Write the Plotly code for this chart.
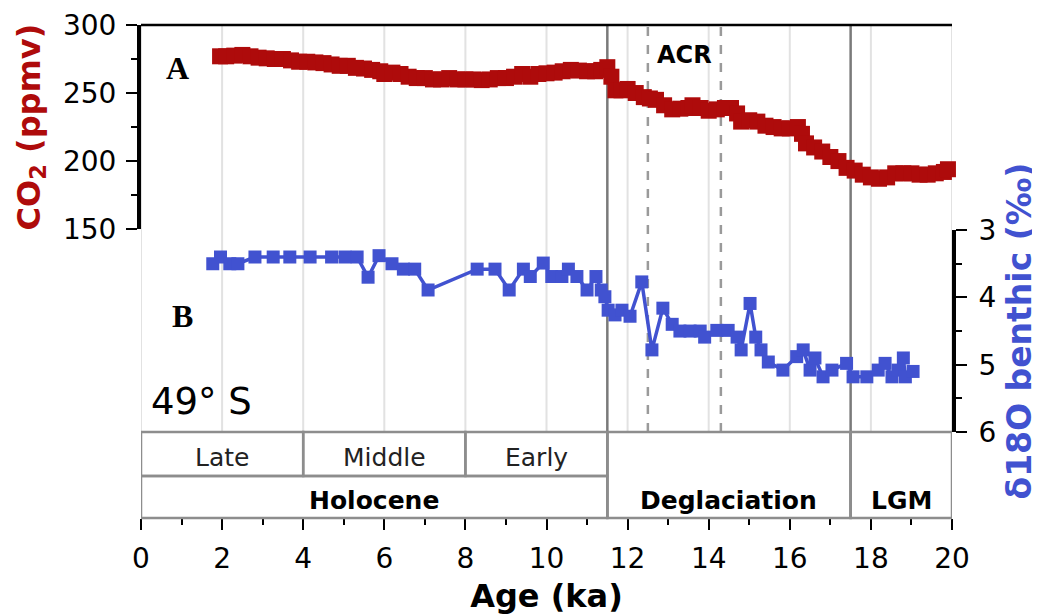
import plotly.graph_objects as go

# ---------------- data ----------------
co2_age = [1.95, 2.1, 2.3, 2.5, 2.7, 2.9, 3.1, 3.3, 3.5, 3.7, 3.9, 4.1, 4.3, 4.5, 4.7, 4.9,
           5.1, 5.3, 5.5, 5.7, 5.9, 6.0, 6.2, 6.4, 6.6, 6.8, 7.0, 7.2, 7.4, 7.6, 7.8, 8.0,
           8.2, 8.4, 8.6, 8.8, 9.0, 9.2, 9.4, 9.6, 9.8, 10.0, 10.2, 10.4, 10.6, 10.8, 11.0,
           11.2, 11.35, 11.5, 11.6, 11.7, 11.85, 12.0, 12.2, 12.4, 12.55, 12.7, 12.9, 13.1,
           13.3, 13.5, 13.6, 13.8, 14.0, 14.2, 14.4, 14.55, 14.7, 14.8, 15.0, 15.2, 15.4,
           15.6, 15.8, 16.0, 16.2, 16.3, 16.4, 16.6, 16.8, 17.0, 17.2, 17.4, 17.6, 17.8,
           18.0, 18.2, 18.4, 18.6, 18.8, 19.0, 19.2, 19.4, 19.6, 19.8, 19.9]
co2_ppmv = [277, 277, 277.5, 278, 277, 276, 275.5, 275, 275, 274, 273, 273, 272.5, 272, 271, 270,
            270, 268.5, 268, 267, 266, 264, 265, 264, 262, 261, 261, 260, 260, 261, 260, 260,
            260, 259.5, 260, 261, 261, 262, 264, 262, 264, 264.5, 265, 266, 267, 266.5, 266,
            266, 267, 269, 262, 252, 252, 253, 250, 247, 246, 245, 241, 238,
            238.5, 239, 241, 239, 237, 238, 239, 239, 235, 229, 230, 229, 226,
            225, 224, 224, 225, 220, 213, 210, 207, 203, 200, 195, 193, 190,
            188, 187, 188, 191, 191, 191, 190, 190, 191, 192, 194]

d18o_age = [1.77, 1.96, 2.19, 2.39, 2.81, 3.26, 3.67, 4.17, 4.7, 5.03, 5.33, 5.6, 5.87, 6.19,
            6.47, 6.75, 7.08, 8.29, 8.73, 9.08, 9.43, 9.6, 9.92, 10.13, 10.38, 10.54, 10.75,
            11.0, 11.22, 11.35, 11.44, 11.52, 11.69, 11.86, 12.06, 12.35, 12.6, 12.87, 13.1,
            13.29, 13.54, 13.79, 13.9, 14.2, 14.48, 14.7, 14.8, 15.02, 15.16, 15.29, 15.47,
            15.83, 16.17, 16.33, 16.5, 16.62, 16.82, 17.04, 17.4, 17.56, 17.9, 18.18, 18.35,
            18.52, 18.67, 18.8, 18.85, 19.04]
d18o_val = [3.5, 3.4, 3.5, 3.5, 3.4, 3.4, 3.4, 3.4, 3.4, 3.4, 3.4, 3.7, 3.38, 3.5,
            3.58, 3.58, 3.89, 3.58, 3.58, 3.89, 3.58, 3.69, 3.49, 3.69, 3.69, 3.58, 3.69,
            3.89, 3.69, 3.89, 3.99, 4.19, 4.26, 4.19, 4.28, 3.77, 4.78, 4.16, 4.4,
            4.5, 4.5, 4.5, 4.59, 4.49, 4.49, 4.59, 4.78, 4.09, 4.59, 4.78, 4.96,
            5.08, 4.88, 4.78, 5.08, 4.9, 5.18, 5.08, 4.98, 5.18, 5.18, 5.08, 4.98,
            5.18, 5.08, 4.9, 5.18, 5.1]

x_ticks = list(range(0, 21, 2))
co2_ticks = [150, 200, 250, 300]
d18o_ticks = [3, 4, 5, 6]
grid_x = list(range(0, 21, 2))
period_bounds = [11.5, 17.5]
acr_bounds = [12.5, 14.3]

sub_names = ["Late", "Middle", "Early"]
sub_spans = [(0, 4), (4, 8), (8, 11.5)]
main_names = ["Holocene", "Deglaciation", "LGM"]
main_spans = [(0, 11.5), (11.5, 17.5), (17.5, 20)]

# ---------------- style ----------------
RED = "#AE0B0B"
BLUE = "#4152D0"
FONT = "DejaVu Sans"
BOX_COL = "#8d8d8d"

# paper-y positions (plot area height 493 px)
Y_BOX_TOP = 0.1744
Y_BOX_MID = 0.0852
CO2_DOM = [0.586, 1.0]
D18_DOM = [0.1744, 0.584]

fig = go.Figure()
fig.add_trace(go.Scatter(
    x=co2_age, y=co2_ppmv, mode="lines+markers", yaxis="y",
    line=dict(color=RED, width=5),
    marker=dict(symbol="square", size=16, color=RED),
    showlegend=False, cliponaxis=False))
fig.add_trace(go.Scatter(
    x=d18o_age, y=d18o_val, mode="lines+markers", yaxis="y2",
    line=dict(color=BLUE, width=3.5),
    marker=dict(symbol="square", size=13, color=BLUE),
    showlegend=False, cliponaxis=False))

shapes = []
for g in grid_x:
    shapes.append(dict(type="line", xref="x", yref="paper", x0=g, x1=g,
                       y0=Y_BOX_TOP, y1=1, line=dict(color="#e2e2e2", width=2),
                       layer="below"))
for b in acr_bounds:
    shapes.append(dict(type="line", xref="x", yref="paper", x0=b, x1=b,
                       y0=Y_BOX_TOP, y1=1,
                       line=dict(color="#9a9a9a", width=2.5, dash="dash"),
                       layer="below"))
for b in period_bounds:
    shapes.append(dict(type="line", xref="x", yref="paper", x0=b, x1=b,
                       y0=0, y1=1, line=dict(color="#7a7a7a", width=2.5),
                       layer="below"))
# top frame line
shapes.append(dict(type="line", xref="x", yref="paper", x0=0, x1=20, y0=1, y1=1,
                   line=dict(color="black", width=2.5)))
# period boxes
for (a, b) in sub_spans:
    shapes.append(dict(type="rect", xref="x", yref="paper", x0=a, x1=b,
                       y0=Y_BOX_MID, y1=Y_BOX_TOP, line=dict(color=BOX_COL, width=2.5)))
shapes.append(dict(type="rect", xref="x", yref="paper", x0=main_spans[0][0],
                   x1=main_spans[0][1], y0=0, y1=Y_BOX_MID,
                   line=dict(color=BOX_COL, width=2.5)))
for (a, b) in main_spans[1:]:
    shapes.append(dict(type="rect", xref="x", yref="paper", x0=a, x1=b,
                       y0=0, y1=Y_BOX_TOP, line=dict(color=BOX_COL, width=2.5)))

annotations = []
for name, (a, b) in zip(sub_names, sub_spans):
    annotations.append(dict(x=(a + b) / 2, y=0.1237, xref="x", yref="paper",
                            xanchor="center", yanchor="middle",
                            text=name, showarrow=False,
                            font=dict(family=FONT, size=25, color="#222222")))
for name, (a, b) in zip(main_names, main_spans):
    annotations.append(dict(x=(a + b) / 2, y=0.0365, xref="x", yref="paper",
                            xanchor="center", yanchor="middle",
                            text="<b>" + name + "</b>", showarrow=False,
                            font=dict(family=FONT, size=25, color="black")))
annotations += [
    dict(x=0.0456, y=0.913, xref="paper", yref="paper", text="<b>A</b>",
         xanchor="center", yanchor="middle",
         showarrow=False, font=dict(family="Liberation Serif", size=32, color="black")),
    dict(x=0.0506, y=0.41, xref="paper", yref="paper", text="<b>B</b>",
         xanchor="center", yanchor="middle",
         showarrow=False, font=dict(family="Liberation Serif", size=32, color="black")),
    dict(x=sum(acr_bounds) / 2, y=0.939, xref="x", yref="paper", text="<b>ACR</b>",
         xanchor="center", yanchor="middle",
         showarrow=False, font=dict(family=FONT, size=24, color="black")),
    dict(x=0.0752, y=0.2353, xref="paper", yref="paper", text="49° S",
         xanchor="center", yanchor="middle",
         showarrow=False, font=dict(family=FONT, size=37, color="black")),
]

fig.update_layout(
    width=1040, height=616,
    margin=dict(l=133, r=96, t=17, b=106),
    paper_bgcolor="white", plot_bgcolor="white",
    font=dict(family=FONT, size=28, color="black"),
    shapes=shapes, annotations=annotations,
    xaxis=dict(domain=[0, 1], range=[0, 20], anchor="free", position=0,
               tickmode="array", tickvals=x_ticks,
               ticks="outside", ticklen=11, tickwidth=2, tickcolor="black",
               ticklabelstandoff=4,
               minor=dict(dtick=1, ticks="outside", ticklen=6, tickwidth=1.5,
                          tickcolor="black", showgrid=False),
               showgrid=False, zeroline=False, showline=False,
               tickfont=dict(size=28, family=FONT, color="black"),
               title=dict(text="<b>Age (ka)</b>", standoff=11,
                          font=dict(size=32, family=FONT, color="black")),
               automargin=False),
    yaxis=dict(domain=CO2_DOM, range=[150, 300], anchor="x", side="left",
               tickmode="array", tickvals=co2_ticks,
               ticks="outside", ticklen=11, tickwidth=2, tickcolor="black",
               ticklabelstandoff=4,
               minor=dict(dtick=25, ticks="outside", ticklen=6, tickwidth=1.5,
                          tickcolor="black", showgrid=False),
               showline=True, linewidth=4, linecolor="black",
               showgrid=False, zeroline=False,
               tickfont=dict(size=28, family=FONT, color="black"),
               title=dict(text="<b>CO<sub>2</sub> (ppmv)</b>", standoff=14,
                          font=dict(size=32, family=FONT, color=RED)),
               automargin=False),
    yaxis2=dict(domain=D18_DOM, range=[6, 3], anchor="x", side="right",
                tickmode="array", tickvals=d18o_ticks,
                ticks="outside", ticklen=11, tickwidth=2, tickcolor="black",
                ticklabelstandoff=6,
                minor=dict(dtick=0.5, ticks="outside", ticklen=6, tickwidth=1.5,
                           tickcolor="black", showgrid=False),
                showline=True, linewidth=4, linecolor="black",
                showgrid=False, zeroline=False,
                tickfont=dict(size=28, family=FONT, color="black"),
                title=dict(text="<b>δ18O benthic (‰)</b>", standoff=13,
                           font=dict(size=33, family=FONT, color=BLUE)),
                automargin=False),
)

fig.write_html("out.html")
